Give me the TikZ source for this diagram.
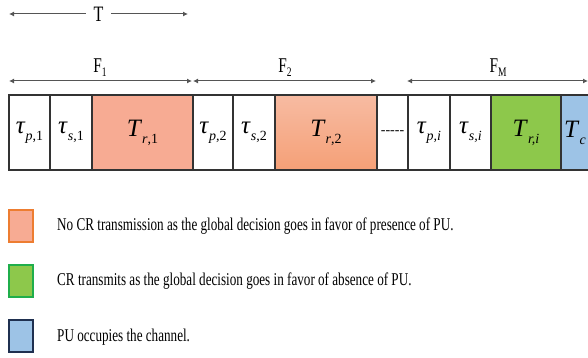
\documentclass[tikz,border=0pt]{standalone}
\usepackage{fontspec}
\setmainfont[FakeStretch=0.73]{Liberation Serif}
\newfontfamily\labfont{Liberation Serif}
\usetikzlibrary{positioning,arrows.meta}
\definecolor{cellline}{HTML}{333333}
\definecolor{arrowgray}{HTML}{555555}
\definecolor{nofill}{HTML}{F7AB93}
\definecolor{notop}{HTML}{F7BBA2}
\definecolor{nobot}{HTML}{F5A077}
\definecolor{nobord}{HTML}{ED7D31}
\definecolor{yesfill}{HTML}{8DC84B}
\definecolor{yesbord}{HTML}{1FAE4B}
\definecolor{pufill}{HTML}{9DC3E6}
\definecolor{pubord}{HTML}{1F3050}
\newcommand{\slotlab}[2]{\textit{#1}\raisebox{-7pt}{\fontsize{14}{14}\selectfont #2}}
\tikzset{
  cell/.style={draw=cellline,line width=1.2pt,minimum height=75pt,inner sep=0pt,outer sep=0pt,
    font=\labfont\fontsize{25}{25}\selectfont},
  dimarrow/.style={{Latex[length=5pt,width=5pt]}-{Latex[length=5pt,width=5pt]},draw=arrowgray,line width=1pt},
  keybox/.style={line width=1.3pt,minimum width=24pt,minimum height=32pt,inner sep=0pt,outer sep=0pt},
  keytext/.style={anchor=west,font=\fontsize{18}{20}\selectfont,inner sep=0pt},
  framelab/.style={font=\fontsize{21}{21}\selectfont,inner sep=0pt}
}
\begin{document}
\begin{tikzpicture}[x=1pt,y=-1pt]
  \useasboundingbox (0,0) rectangle (588,358);
  % period T
  \coordinate (t0) at (9,14);
  \coordinate (t1) at (188,14);
  \draw[dimarrow] (t0) -- node[fill=white,inner xsep=8pt,font=\fontsize{22}{22}\selectfont] (tlab) {T} (t1);
  % frames
  \coordinate (f1a) at (9,81);
  \coordinate (f1b) at (192,81);
  \coordinate (f2a) at (193,81);
  \coordinate (f2b) at (376,81);
  \coordinate (fma) at (407,81);
  \coordinate (fmb) at (588,81);
  \draw[dimarrow] (f1a) -- (f1b);
  \draw[dimarrow] (f2a) -- (f2b);
  \draw[dimarrow] (fma) -- (fmb);
  \node[framelab] (f1lab) at (100,68) {F\raisebox{-4pt}{\fontsize{13}{13}\selectfont 1}};
  \node[framelab] (f2lab) at (285,68) {F\raisebox{-4pt}{\fontsize{13}{13}\selectfont 2}};
  \node[framelab] (fmlab) at (498,68) {F\raisebox{-4pt}{\fontsize{13}{13}\selectfont M}};
  % slots of the frames
  \node[cell,anchor=north west,minimum width=41pt] (p1) at (9,95) {\slotlab{τ}{\textit{p},1}};
  \node[cell,right=0pt of p1,minimum width=42pt] (s1) {\slotlab{τ}{\textit{s},1}};
  \node[cell,right=0pt of s1,minimum width=101pt,fill=nofill] (r1) {\slotlab{T}{\textit{r},1}};
  \node[cell,right=0pt of r1,minimum width=40pt] (p2) {\slotlab{τ}{\textit{p},2}};
  \node[cell,right=0pt of p2,minimum width=42pt] (s2) {\slotlab{τ}{\textit{s},2}};
  \node[cell,right=0pt of s2,minimum width=102pt,top color=notop,bottom color=nobot] (r2) {\slotlab{T}{\textit{r},2}};
  \node[cell,right=0pt of r2,minimum width=31pt,font=\labfont\fontsize{14}{14}\selectfont] (gap) {-{}-{}-{}-{}-};
  \node[cell,right=0pt of gap,minimum width=42pt] (pi) {\slotlab{τ}{\textit{p,i}}};
  \node[cell,right=0pt of pi,minimum width=41pt] (si) {\slotlab{τ}{\textit{s,i}}};
  \node[cell,right=0pt of si,minimum width=70pt,fill=yesfill] (ri) {\slotlab{T}{\textit{r,i}}};
  \node[cell,right=0pt of ri,minimum width=40pt,fill=pufill] (tc) {\hspace*{-12pt}\slotlab{T}{\textit{c}}};
  % key
  \node[keybox,draw=nobord,fill=nofill] (k1) at (21,226) {};
  \node[keybox,draw=yesbord,fill=yesfill] (k2) at (21,281) {};
  \node[keybox,draw=pubord,fill=pufill] (k3) at (21,336) {};
  \node[keytext] (k1txt) at (57,226) {No CR transmission as the global decision goes in favor of presence of PU.};
  \node[keytext] (k2txt) at (57,281) {CR transmits as the global decision goes in favor of absence of PU.};
  \node[keytext] (k3txt) at (57,337) {PU occupies the channel.};
\end{tikzpicture}
\end{document}
